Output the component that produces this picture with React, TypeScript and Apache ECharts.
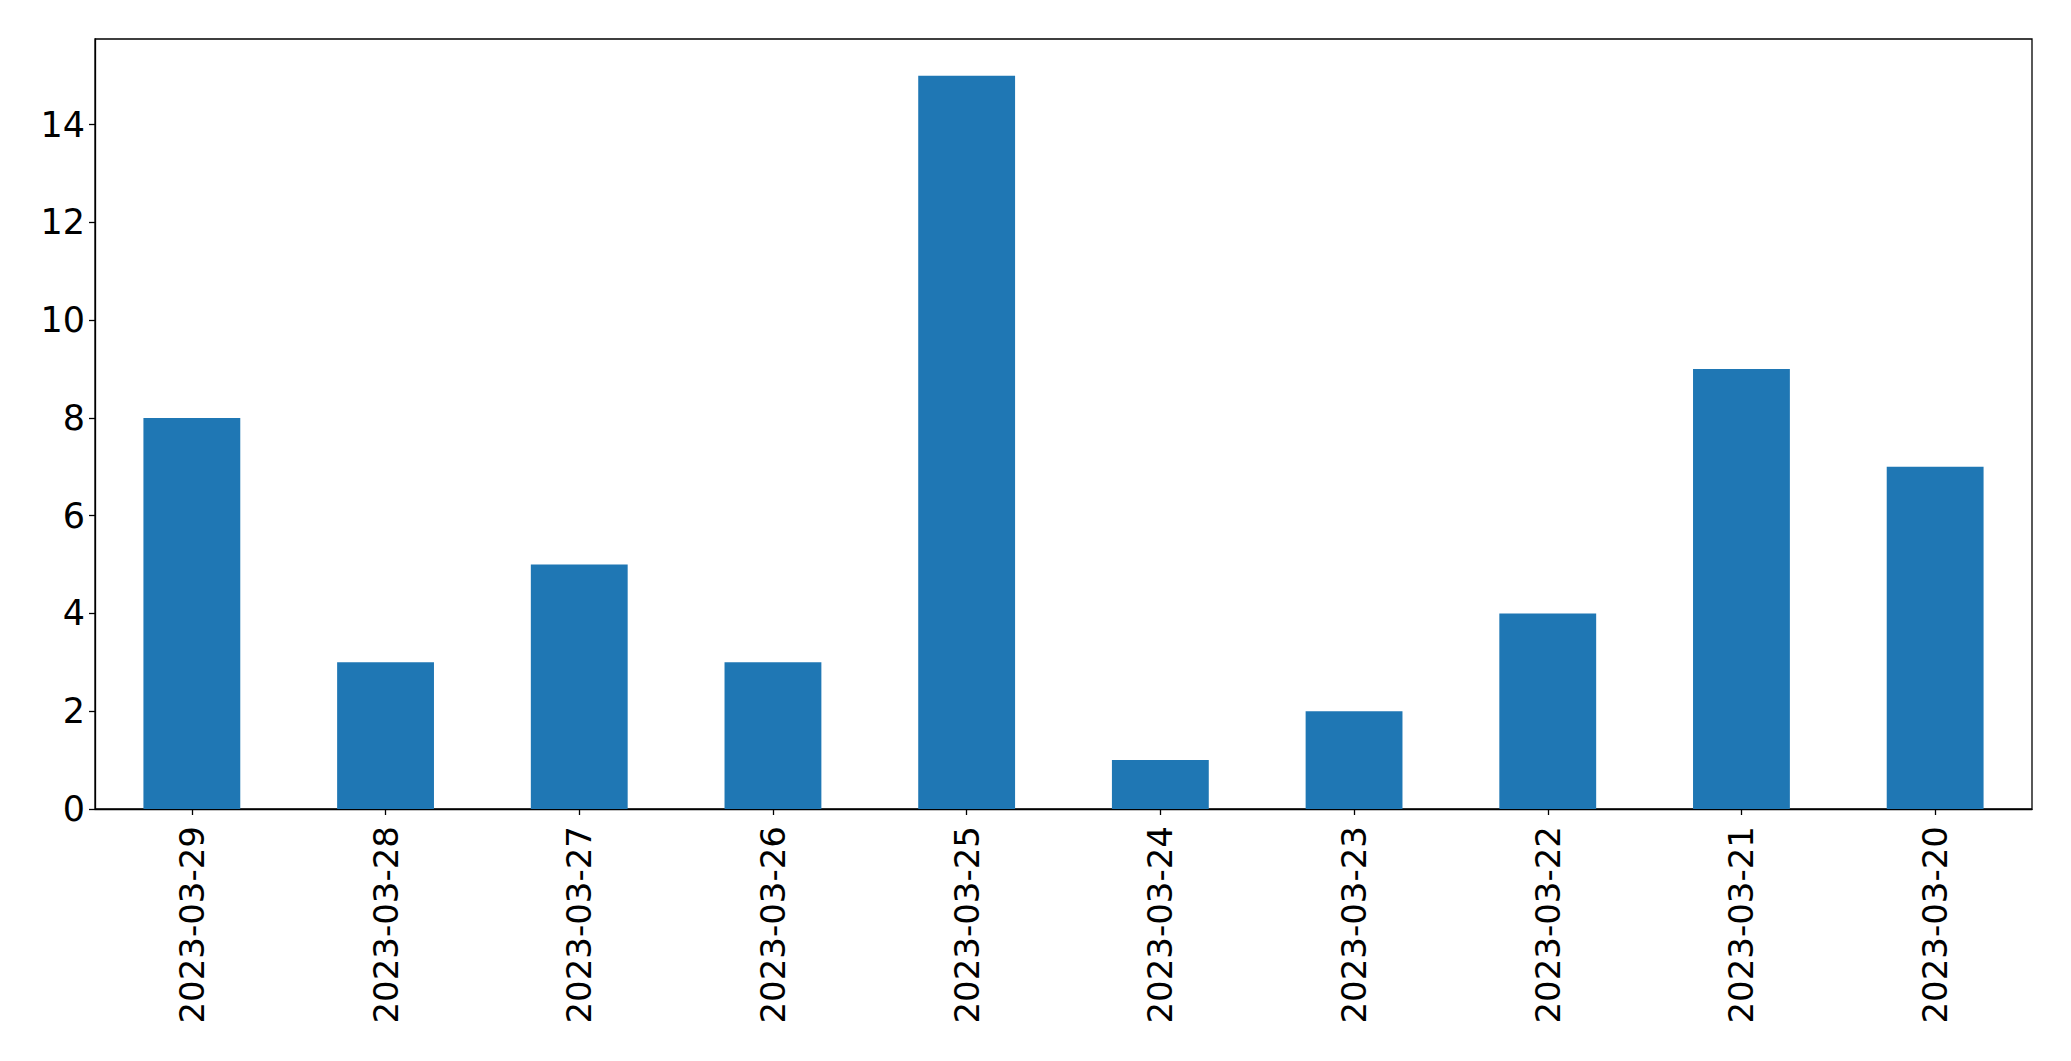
import React, { useEffect, useRef } from "react";
import * as echarts from "echarts";

const categories = [
  "2023-03-29",
  "2023-03-28",
  "2023-03-27",
  "2023-03-26",
  "2023-03-25",
  "2023-03-24",
  "2023-03-23",
  "2023-03-22",
  "2023-03-21",
  "2023-03-20",
];
const values = [8, 3, 5, 3, 15, 1, 2, 4, 9, 7];
const yMax = 15.75;

export default function App() {
  const ref = useRef<HTMLDivElement>(null);
  useEffect(() => {
    if (!ref.current) return;
    const chart = echarts.init(ref.current, undefined, { renderer: "svg" });
    const font = "DejaVu Sans";
    chart.setOption({
      animation: false,
      backgroundColor: "#ffffff",
      grid: { left: 95, top: 39, right: 39, bottom: 252, containLabel: false, show: true, borderColor: "#000", borderWidth: 1.3, backgroundColor: "transparent" },
      xAxis: {
        type: "category",
        data: categories,
        axisLine: { show: true, lineStyle: { color: "#000", width: 1.3 } },
        axisTick: { show: true, alignWithLabel: true, length: 6, lineStyle: { color: "#000", width: 1.3 } },
        axisLabel: { rotate: 90, margin: 17, fontSize: 34, fontFamily: font, color: "#000" },
        splitLine: { show: false },
      },
      yAxis: {
        type: "value",
        min: 0,
        max: yMax,
        interval: 2,
        axisLine: { show: true, lineStyle: { color: "#000", width: 1.3 } },
        axisTick: { show: true, length: 6, lineStyle: { color: "#000", width: 1.3 } },
        axisLabel: {
          margin: 10,
          fontSize: 35,
          fontFamily: font,
          color: "#000",
          showMaxLabel: false,
          formatter: (v: number) => (v % 2 === 0 ? String(v) : ""),
        },
        splitLine: { show: false },
      },
      series: [
        {
          type: "bar",
          data: values,
          barWidth: "50%",
          itemStyle: { color: "#1f77b4" },
        },
      ],
    });
    return () => chart.dispose();
  }, []);
  return <div ref={ref} style={{ width: 2071, height: 1061, margin: -8 }} />;
}
